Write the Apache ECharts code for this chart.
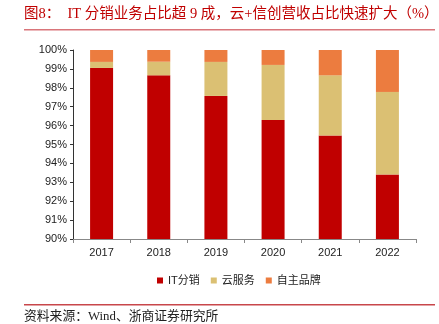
<!DOCTYPE html>
<html><head><meta charset="utf-8">
<script src="https://cdn.jsdelivr.net/npm/echarts@6/dist/echarts.min.js"></script>
<style>html,body{margin:0;padding:0;background:#fff}#c{width:439px;height:324px}</style>
</head><body><div id="c"></div>
<script>
const categories = ['2017','2018','2019','2020','2021','2022'];
const itDist = [99.05, 98.66, 97.57, 96.30, 95.47, 93.41];
const cloud = [0.32, 0.72, 1.80, 2.91, 3.19, 4.37];
const ownBrand = [0.63, 0.62, 0.63, 0.79, 1.34, 2.22];
const seriesNames = ['IT分销', '云服务', '自主品牌'];

const chart = echarts.init(document.getElementById('c'));
const serifFont = "'Liberation Serif','Noto Sans CJK SC',serif";
chart.setOption({
  animation: false,
  grid: {left: 73, right: 23, top: 50, bottom: 85},
  graphic: [
    {type: 'text', left: 24, top: 7, style: {text: '图8：  IT 分销业务占比超 9 成，云+信创营收占比快速扩大（%）', fill: '#C00000', font: "14.5px " + serifFont}},
    {type: 'rect', shape: {x: 24, y: 29, width: 411, height: 1.5}, style: {fill: '#D9757A'}},
    {type: 'rect', shape: {x: 24, y: 304, width: 411, height: 1.5}, style: {fill: '#C8474B'}},
    {type: 'text', left: 24, top: 310, style: {text: '资料来源：Wind、浙商证券研究所', fill: '#222', font: "12.8px " + serifFont}}
  ],
  legend: {
    bottom: 33, left: 152, itemWidth: 6, itemHeight: 6, itemGap: 11,
    icon: 'rect',
    textStyle: {fontSize: 11, color: '#222', fontFamily: "'Liberation Sans','Noto Sans CJK SC',sans-serif"},
    data: seriesNames
  },
  xAxis: {
    type: 'category', data: categories,
    axisLine: {lineStyle: {color: '#888'}},
    axisTick: {show: true, lineStyle: {color: '#888'}, length: 4},
    axisLabel: {color: '#222', fontSize: 11, margin: 8, fontFamily: "'Liberation Sans',sans-serif"}
  },
  yAxis: {
    type: 'value', min: 90, max: 100, interval: 1,
    axisLine: {show: true, lineStyle: {color: '#333'}},
    axisTick: {show: true, lineStyle: {color: '#333'}, length: 3},
    splitLine: {show: false},
    axisLabel: {color: '#222', fontSize: 11, margin: 6, fontFamily: "'Liberation Sans',sans-serif",
      formatter: '{value}%'}
  },
  series: [
    {name: seriesNames[0], type: 'bar', stack: 's', barWidth: 23, data: itDist, itemStyle: {color: '#C00000'}},
    {name: seriesNames[1], type: 'bar', stack: 's', data: cloud, itemStyle: {color: '#DBC073'}},
    {name: seriesNames[2], type: 'bar', stack: 's', data: ownBrand, itemStyle: {color: '#EC7C3F'}}
  ]
});
</script></body></html>
